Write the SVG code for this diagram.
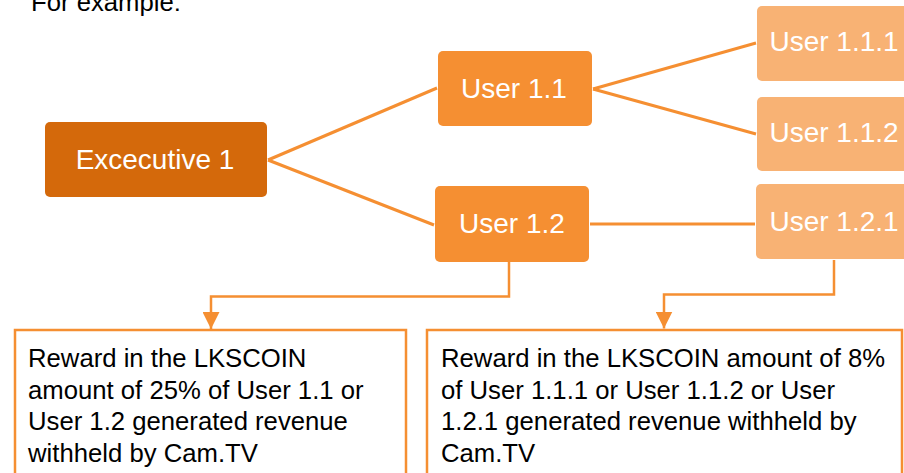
<svg xmlns="http://www.w3.org/2000/svg" width="904" height="473" viewBox="0 0 904 473">
  <style>
    .body { font-family: "Liberation Sans", Arial, sans-serif; font-size: 25.7px; fill: #000000; }
    .lbl { font-family: "Liberation Sans", Arial, sans-serif; font-size: 28px; fill: #ffffff; text-anchor: middle; }
    .exec { fill: #D4690B; }
    .mid { fill: #F58F32; }
    .leaf { fill: #F8B274; }
    .tree { stroke: #F58F32; stroke-width: 3; fill: none; }
    .down { stroke: #F58F32; stroke-width: 2.5; fill: none; marker-end: url(#arrow); }
    .panel { fill: #ffffff; stroke: #F58F32; stroke-width: 2.5; }
  </style>
  <defs>
    <marker id="arrow" markerUnits="userSpaceOnUse" viewBox="0 0 17 17" markerWidth="17" markerHeight="17" refX="17" refY="8.5" orient="auto">
      <path d="M0,0 L17,8.5 L0,17 z" fill="#F58F32"/>
    </marker>
  </defs>

  <rect width="904" height="473" fill="#ffffff"/>

  <text class="body" x="31" y="11">For example:</text>

  <!-- connectors -->
  <g id="connectors">
    <line class="tree" x1="268" y1="160" x2="437" y2="88"/>
    <line class="tree" x1="268" y1="160" x2="434" y2="225"/>
    <line class="tree" x1="593" y1="89" x2="756" y2="43"/>
    <line class="tree" x1="593" y1="89" x2="756" y2="134"/>
    <line class="tree" x1="590" y1="224" x2="755" y2="224"/>
    <path class="down" d="M509,262 V296.5 H211 V329"/>
    <path class="down" d="M834,260 V294.5 H664 V328.5"/>
  </g>

  <!-- tree nodes -->
  <g id="executive-1">
    <rect class="exec" x="45" y="122" width="222" height="75" rx="5"/>
    <text class="lbl" x="155" y="169">Excecutive 1</text>
  </g>
  <g id="user-1-1">
    <rect class="mid" x="438" y="51" width="154" height="75" rx="5"/>
    <text class="lbl" x="514" y="98">User 1.1</text>
  </g>
  <g id="user-1-2">
    <rect class="mid" x="435" y="186" width="154" height="76" rx="5"/>
    <text class="lbl" x="512" y="233">User 1.2</text>
  </g>
  <g id="user-1-1-1">
    <rect class="leaf" x="757" y="6" width="154" height="75" rx="5"/>
    <text class="lbl" x="834" y="51">User 1.1.1</text>
  </g>
  <g id="user-1-1-2">
    <rect class="leaf" x="757" y="97" width="154" height="74" rx="5"/>
    <text class="lbl" x="834" y="142">User 1.1.2</text>
  </g>
  <g id="user-1-2-1">
    <rect class="leaf" x="756" y="184" width="154" height="75" rx="5"/>
    <text class="lbl" x="834" y="231">User 1.2.1</text>
  </g>

  <!-- reward panels -->
  <g id="reward-25">
    <rect class="panel" x="15" y="330" width="391" height="160"/>
    <text class="body">
      <tspan x="28" y="367">Reward in the LKSCOIN</tspan>
      <tspan x="28" y="398.5">amount of 25% of User 1.1 or</tspan>
      <tspan x="28" y="430">User 1.2 generated revenue</tspan>
      <tspan x="28" y="461.5">withheld by Cam.TV</tspan>
    </text>
  </g>
  <g id="reward-8">
    <rect class="panel" x="427" y="330" width="475" height="160"/>
    <text class="body">
      <tspan x="441" y="367">Reward in the LKSCOIN amount of 8%</tspan>
      <tspan x="441" y="398.5">of User 1.1.1 or User 1.1.2 or User</tspan>
      <tspan x="441" y="430">1.2.1 generated revenue withheld by</tspan>
      <tspan x="441" y="461.5">Cam.TV</tspan>
    </text>
  </g>
</svg>
